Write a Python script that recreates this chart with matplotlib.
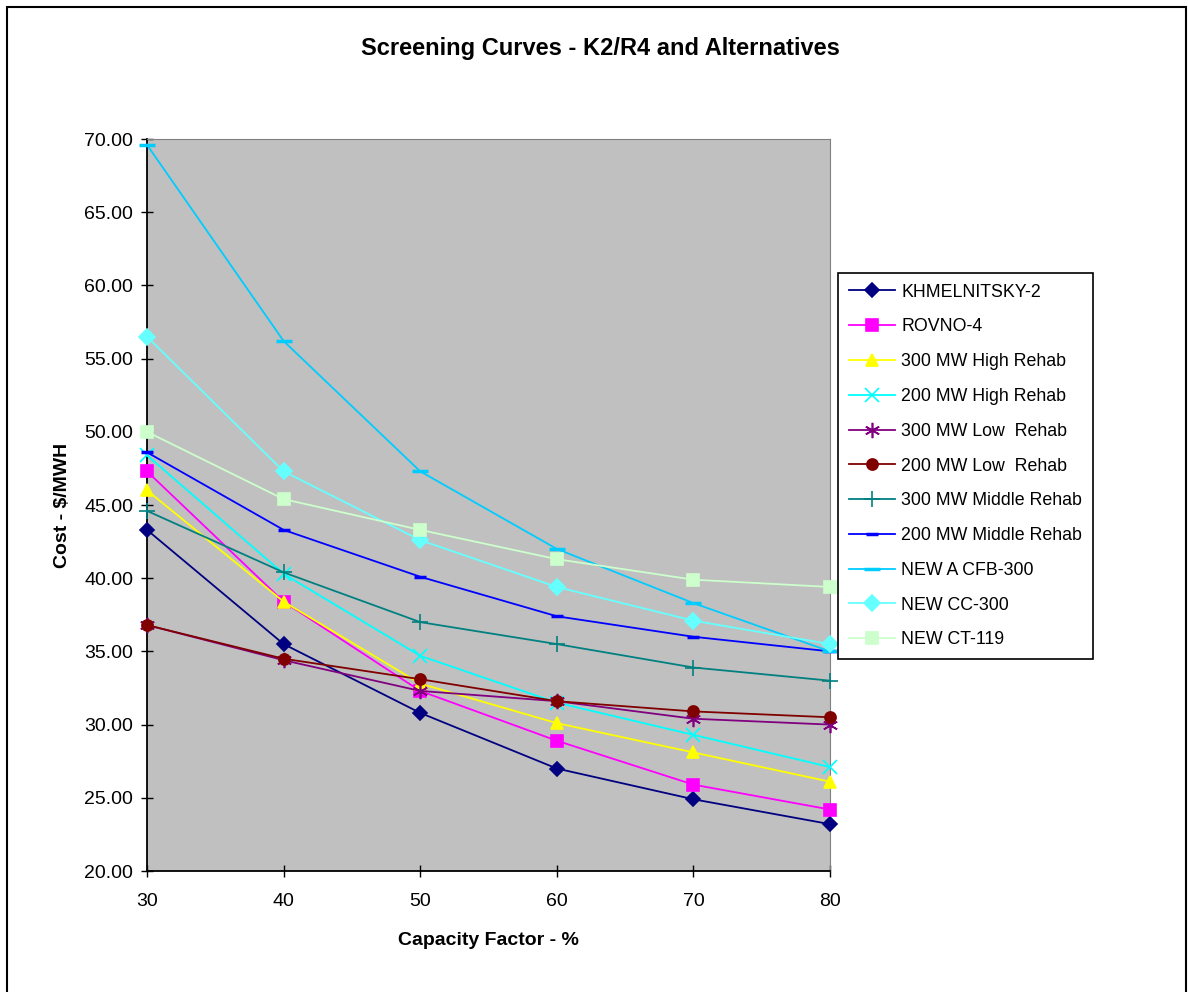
import matplotlib.pyplot as plt
from matplotlib.patches import Rectangle

plt.rcParams['font.family'] = ['Liberation Sans', 'DejaVu Sans']

# capacity factor (%) on x
capacity = [30, 40, 50, 60, 70, 80]

# cost $/MWH for each unit
khmelnitsky2 = [43.3, 35.5, 30.8, 27.0, 24.9, 23.2]
rovno4 = [47.3, 38.4, 32.3, 28.9, 25.9, 24.2]
mw300_high = [46.0, 38.4, 32.8, 30.1, 28.1, 26.1]
mw200_high = [48.4, 40.3, 34.7, 31.5, 29.3, 27.1]
mw300_low = [36.8, 34.4, 32.3, 31.6, 30.4, 30.0]
mw200_low = [36.8, 34.5, 33.1, 31.6, 30.9, 30.5]
mw300_mid = [44.6, 40.4, 37.0, 35.5, 33.9, 33.0]
mw200_mid = [48.6, 43.3, 40.1, 37.4, 36.0, 35.0]
new_acfb300 = [69.6, 56.2, 47.3, 42.0, 38.3, 35.0]
new_cc300 = [56.5, 47.3, 42.6, 39.4, 37.1, 35.5]
new_ct119 = [50.0, 45.4, 43.3, 41.3, 39.9, 39.4]

series_names = ["KHMELNITSKY-2", "ROVNO-4", "300 MW High Rehab", "200 MW High Rehab",
                "300 MW Low  Rehab", "200 MW Low  Rehab", "300 MW Middle Rehab",
                "200 MW Middle Rehab", "NEW A CFB-300", "NEW CC-300", "NEW CT-119"]
series_data = [khmelnitsky2, rovno4, mw300_high, mw200_high, mw300_low, mw200_low,
               mw300_mid, mw200_mid, new_acfb300, new_cc300, new_ct119]

# colour, marker, marker size
styles = [
    ("#000080", "D", 7),
    ("#FF00FF", "s", 8),
    ("#FFFF00", "^", 9),
    ("#00FFFF", "x", 10),
    ("#800080", (6, 2, 0), 11),
    ("#800000", "o", 8),
    ("#008080", "+", 11),
    ("#0000FF", "_", 8),
    ("#00CCFF", "_", 12),
    ("#66FFFF", "D", 8),
    ("#CCFFCC", "s", 9),
]

fig = plt.figure(figsize=(11.88, 9.92), dpi=100)
fig.patches.append(Rectangle((7 / 1188, -0.01), 1179 / 1188, 1 - 7 / 992 + 0.01,
                             transform=fig.transFigure, fill=False,
                             edgecolor="black", linewidth=1.5))

ax = fig.add_axes([147 / 1188, 1 - 871 / 992, 683 / 1188, 732 / 992])
ax.set_facecolor("#C0C0C0")

for name, vals, (col, mk, ms) in zip(series_names, series_data, styles):
    mew = 2.5 if mk == "_" else 1.2
    ax.plot(capacity, vals, color=col, marker=mk, markersize=ms, linewidth=1.3,
            markeredgewidth=mew, markeredgecolor=col, markerfacecolor=col,
            label=name, clip_on=False, zorder=3)

ax.set_xlim(30, 80)
ax.set_ylim(20, 70)
ax.set_xticks(capacity)
ax.set_yticks(range(20, 71, 5))
ax.set_yticklabels([f"{v:.2f}" for v in range(20, 71, 5)])
ax.tick_params(axis="both", direction="inout", length=8, width=1, labelsize=14)
ax.tick_params(axis="x", pad=12)
ax.tick_params(axis="y", pad=6)
for side in ["top", "right"]:
    ax.spines[side].set_color("#808080")
for side in ["left", "bottom"]:
    ax.spines[side].set_linewidth(1.3)

ax.set_xlabel("Capacity Factor - %", fontsize=14, fontweight="bold", labelpad=16)
ax.set_ylabel("Cost - $/MWH", fontsize=14, fontweight="bold", labelpad=9.5)
fig.text(600 / 1188, 1 - 49 / 992, "Screening Curves - K2/R4 and Alternatives",
         ha="center", va="center", fontsize=17, fontweight="bold")

leg = ax.legend(loc="upper left", bbox_to_anchor=(838 / 1188, 1 - 273 / 992),
                bbox_transform=fig.transFigure, fontsize=12.8, frameon=True,
                fancybox=False, edgecolor="black", framealpha=1,
                borderpad=0.6, borderaxespad=0, labelspacing=1.0,
                handlelength=2.6, handletextpad=0.35)
leg.get_frame().set_linewidth(1.2)

fig.savefig("out.png", dpi=100)
